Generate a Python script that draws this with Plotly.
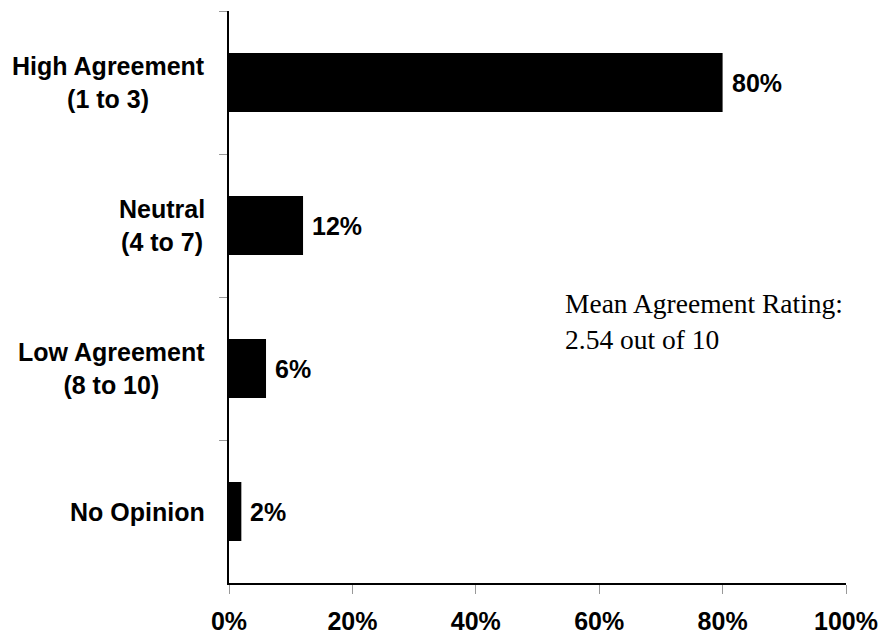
import plotly.graph_objects as go

# Survey response distribution
categories = ["High Agreement", "Neutral", "Low Agreement", "No Opinion"]
ranges = ["(1 to 3)", "(4 to 7)", "(8 to 10)", ""]
shares = [80, 12, 6, 2]
x_ticks = [0, 20, 40, 60, 80, 100]
x_tick_labels = ["0%", "20%", "40%", "60%", "80%", "100%"]
note_lines = ["Mean Agreement Rating:", "2.54 out of 10"]

SANS = "Liberation Sans, Arial, sans-serif"
SERIF = "Liberation Serif, Times New Roman, serif"

fig = go.Figure(
    go.Bar(
        x=shares,
        y=categories,
        orientation="h",
        marker=dict(color="black", line=dict(width=0)),
        hoverinfo="skip",
    )
)

annotations = []
# Category labels (two lines, centered on each other, right of block at the axis)
for cat, rng in zip(categories, ranges):
    text = f"{cat}<br>{rng}" if rng else cat
    annotations.append(dict(
        x=0, xref="paper", y=cat, yref="y",
        text=text, showarrow=False,
        xanchor="right", yanchor="middle", align="center",
        xshift=-22,
        font=dict(family=SANS, size=25, color="black", weight="bold"),
    ))

# Value labels just past the end of each bar
for cat, v in zip(categories, shares):
    annotations.append(dict(
        x=v, xref="x", y=cat, yref="y",
        text=f"{v}%", showarrow=False,
        xanchor="left", yanchor="middle", xshift=7,
        font=dict(family=SANS, size=25, color="black", weight="bold"),
    ))

# Summary note
annotations.append(dict(
    x=0.542, xref="paper", y=0.458, yref="paper",
    text="<br>".join(note_lines), showarrow=False,
    xanchor="left", yanchor="middle", align="left",
    font=dict(family=SERIF, size=27.5, color="black"),
))

fig.update_layout(
    width=882, height=637,
    margin=dict(l=229, r=36, t=11, b=54),
    paper_bgcolor="white", plot_bgcolor="white",
    bargap=0.587,
    showlegend=False,
    annotations=annotations,
    xaxis=dict(
        range=[0, 100],
        tickvals=x_ticks, ticktext=x_tick_labels,
        showgrid=False, zeroline=False,
        showline=True, linecolor="black", linewidth=1.5,
        ticks="outside", ticklen=9, tickcolor="#999999", tickwidth=1,
        tickfont=dict(family=SANS, size=25, color="black", weight="bold"),
        ticklabelstandoff=6,
        automargin=False,
    ),
    yaxis=dict(
        categoryorder="array", categoryarray=categories,
        autorange="reversed",
        showgrid=False, zeroline=False,
        showline=True, linecolor="black", linewidth=1.5,
        ticks="outside", ticklen=8, tickcolor="#999999", tickwidth=1,
        tickson="boundaries",
        showticklabels=False,
        automargin=False,
    ),
)

fig.write_html("out.html")
